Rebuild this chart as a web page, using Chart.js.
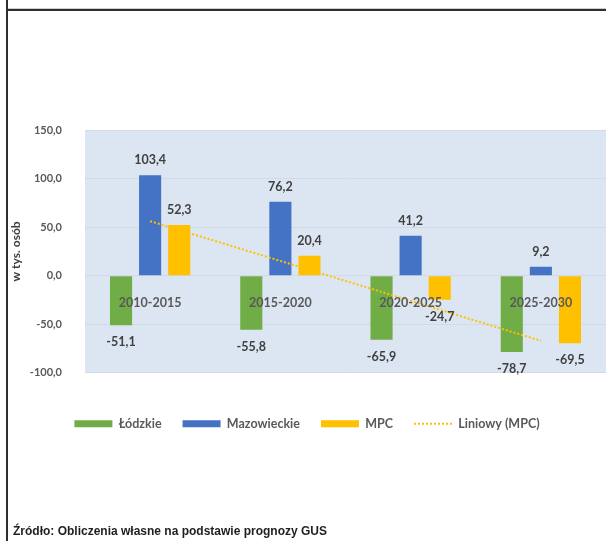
<!DOCTYPE html>
<html>
<head>
<meta charset="utf-8">
<script src="https://cdn.jsdelivr.net/npm/chart.js@4/dist/chart.umd.min.js"></script>
<style>
  body { margin: 0; background: #fff; }
  #wrap { position: relative; width: 606px; height: 541px; overflow: hidden; }
  #migChart { position: absolute; left: 0; top: 0; }
  .frameV { position: absolute; left: 6px; top: 0; width: 2px; height: 541px; background: #2e2e2e; }
  .frameH { position: absolute; left: 6px; top: 9px; right: 0; height: 2px; background: #2e2e2e; }
  .frameH2 { position: absolute; left: 8px; top: 8px; right: 0; height: 1px; background: #cfcfcf; }
  #source { position: absolute; left: 13px; top: 524px; font: bold 12px "Liberation Sans", Arial, sans-serif; color: #1e1e1e; white-space: nowrap; }
</style>
</head>
<body>
<div id="wrap">
  <canvas id="migChart" width="606" height="541"></canvas>
  <div class="frameH2"></div>
  <div class="frameH"></div>
  <div class="frameV"></div>
  <div id="source">Źródło: Obliczenia własne na podstawie prognozy GUS</div>
</div>
<script>
const periods = ['2010-2015', '2015-2020', '2020-2025', '2025-2030'];
const lodzkie = [-51.1, -55.8, -65.9, -78.7];
const mazowieckie = [103.4, 76.2, 41.2, 9.2];
const mpc = [52.3, 20.4, -24.7, -69.5];
// linia trendu
const trendMPC = [56.2, 15.2, -25.9, -67.0];
const yTicks = [-100, -50, 0, 50, 100, 150];

const migChart = document.querySelector('#migChart');

function fmt(v) {
    return v.toFixed(1).replace('.', ',');
}

const plotBg = {
    id: 'plotBg',
    beforeDraw: function (chart) {
        const a = chart.chartArea;
        const ctx = chart.ctx;
        ctx.save();
        ctx.fillStyle = '#DCE6F2';
        ctx.fillRect(a.left, a.top, a.right - a.left, a.bottom - a.top);
        ctx.restore();
    }
};

const barValues = {
    id: 'barValues',
    afterDatasetsDraw: function (chart) {
        const ctx = chart.ctx;
        ctx.save();
        ctx.font = 'bold 12.5px Lato';
        ctx.fillStyle = '#404040';
        ctx.textAlign = 'center';
        ctx.textBaseline = 'middle';
        chart.data.datasets.forEach(function (ds, i) {
            if (ds.type === 'line') return;
            chart.getDatasetMeta(i).data.forEach(function (bar, j) {
                const v = ds.data[j];
                const y = v >= 0 ? bar.y - 15 : bar.y + 17;
                ctx.fillText(fmt(v), bar.x, y);
            });
        });
        ctx.restore();
    }
};

new Chart(migChart, {
    type: 'bar',
    data: {
        labels: periods,
        datasets: [
            {
                label: 'Łódzkie',
                data: lodzkie,
                backgroundColor: '#70AD47',
                borderWidth: 0,
                order: 1
            },
            {
                label: 'Mazowieckie',
                data: mazowieckie,
                backgroundColor: '#4472C4',
                borderWidth: 0,
                order: 1
            },
            {
                label: 'MPC',
                data: mpc,
                backgroundColor: '#FFC000',
                borderWidth: 0,
                order: 1
            },
            {
                type: 'line',
                label: 'Liniowy (MPC)',
                data: trendMPC,
                borderColor: '#FFC000',
                backgroundColor: 'rgba(0,0,0,0)',
                borderWidth: 2,
                borderDash: [2, 2],
                pointRadius: 0,
                fill: false,
                order: 0
            }
        ]
    },
    options: {
        responsive: false,
        animation: false,
        barPercentage: 0.76,
        categoryPercentage: 0.67,
        layout: { padding: { top: 130, left: 8, right: 0, bottom: 101 } },
        plugins: {
            tooltip: { enabled: false },
            legend: {
                position: 'bottom',
                title: { display: true, text: '', font: { size: 1 }, padding: { top: 22.5, bottom: 0 } },
                labels: {
                    usePointStyle: true,
                    pointStyleWidth: 38,
                    boxHeight: 7,
                    padding: 21,
                    color: '#595959',
                    font: { family: 'Lato', size: 12.5, weight: 'bold' },
                    generateLabels: function (chart) {
                        return chart.data.datasets.map(function (ds, i) {
                            const isLine = ds.type === 'line';
                            return {
                                text: ds.label,
                                datasetIndex: i,
                                fillStyle: isLine ? 'rgba(0,0,0,0)' : ds.backgroundColor,
                                strokeStyle: isLine ? ds.borderColor : ds.backgroundColor,
                                lineWidth: isLine ? 2 : 0,
                                lineDash: isLine ? ds.borderDash : [],
                                pointStyle: isLine ? 'line' : 'rect',
                                fontColor: '#595959',
                                hidden: false
                            };
                        });
                    }
                }
            }
        },
        scales: {
            x: {
                position: { y: 0 },
                grid: { display: false },
                border: { display: false },
                ticks: {
                    z: 1,
                    padding: 12,
                    maxRotation: 0,
                    color: '#595959',
                    font: { family: 'Lato', size: 12.5, weight: 'bold' }
                }
            },
            y: {
                min: -100,
                max: 150,
                afterFit: function (scale) { scale.width = 77; },
                afterBuildTicks: function (scale) {
                    scale.ticks = yTicks.map(function (v) { return { value: v }; });
                },
                grid: { color: '#D2DAE5', drawTicks: false },
                border: { display: false },
                ticks: {
                    padding: 23,
                    color: '#595959',
                    font: { family: 'Lato', size: 11, weight: 'bold' },
                    callback: function (v) { return fmt(v); }
                },
                title: {
                    display: true,
                    text: 'w tys. osób',
                    color: '#404040',
                    padding: { top: 1, bottom: 0 },
                    font: { family: 'Lato', size: 12, weight: 'bold' }
                }
            }
        }
    },
    plugins: [plotBg, barValues]
});
</script>
</body>
</html>
